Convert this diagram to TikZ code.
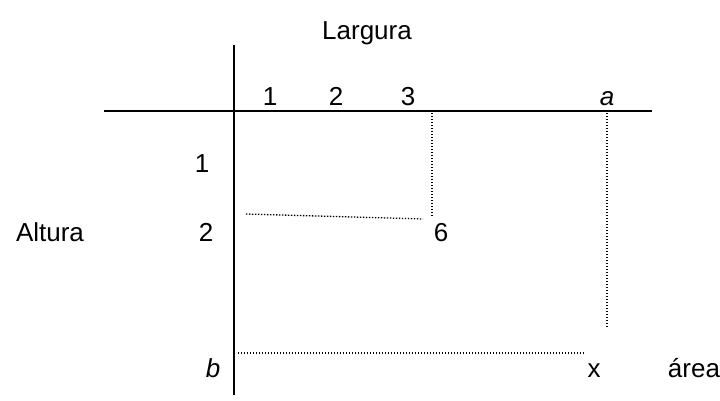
\documentclass[tikz,border=0pt]{standalone}
\usepackage{fontspec}
\setmainfont{Liberation Sans}
\begin{document}
\begin{tikzpicture}[x=1pt,y=-1pt,
  lbl/.style={font=\fontsize{26}{30}\selectfont, inner sep=0pt, anchor=base},
  axis/.style={line width=1.6pt},
  guide/.style={line width=1.3pt, dash pattern=on 1.3pt off 1.7pt}]
\useasboundingbox (0,0) rectangle (720,401);
% axes
\coordinate (hl) at (104,111);
\coordinate (hr) at (652,111);
\coordinate (vt) at (234,45);
\coordinate (vb) at (234,395);
\draw[axis] (hl) -- (hr);
\draw[axis] (vt) -- (vb);
% labels
\node[lbl] (larg) at (367,40) {Largura};
\node[lbl] (x1) at (270,106) {1};
\node[lbl] (x2) at (336,106) {2};
\node[lbl] (x3) at (408,106) {3};
\node[lbl] (xa) at (607,106) {\itshape a};
\node[lbl] (y1) at (202,172) {1};
\node[lbl] (y2) at (206,241) {2};
\node[lbl] (yb) at (213,377) {\itshape b};
\node[lbl] (alt) at (50,241) {Altura};
\node[lbl] (six) at (441,241) {6};
\node[lbl] (xx) at (594,377) {x};
\node[lbl] (area) at (694,377) {área};
% dotted guides
\coordinate (d3t) at (432,113);
\coordinate (d3b) at (432,217);
\coordinate (d2l) at (246,214);
\coordinate (d2r) at (423,219);
\coordinate (dat) at (607,113);
\coordinate (dab) at (607,328);
\coordinate (dbl) at (238,353);
\coordinate (dbr) at (585,353);
\draw[guide] (d3t) -- (d3b);
\draw[guide] (d2l) -- (d2r);
\draw[guide] (dat) -- (dab);
\draw[guide] (dbl) -- (dbr);
\end{tikzpicture}
\end{document}
